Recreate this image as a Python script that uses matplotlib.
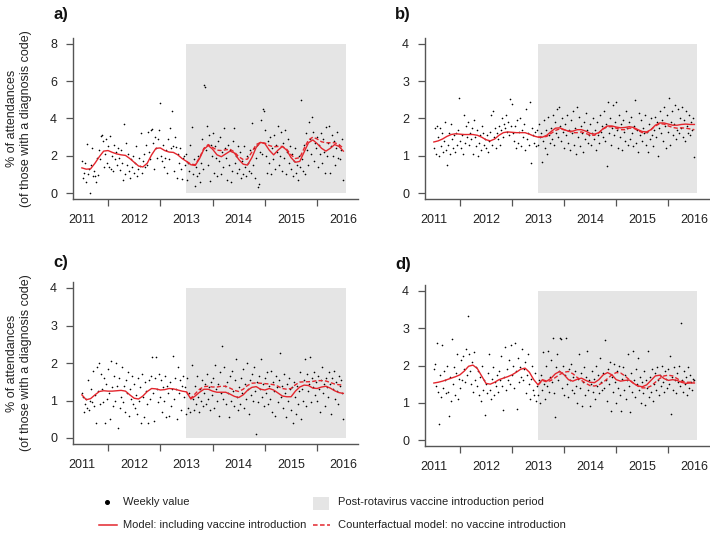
import numpy as np
import matplotlib
matplotlib.use("Agg")
import matplotlib.pyplot as plt
from matplotlib.patches import Rectangle

plt.rcParams["font.family"] = ["Liberation Sans", "DejaVu Sans"]

W, H = 710, 535
RED = "#e3262d"
SHADE = "#e5e5e5"
AXIS_GREY = "#555555"

START_YEAR = 2011          # first weekly value
VACCINE_YEAR = 2013        # start of post-vaccine period
SHADE_END = 2016.05

year_labels = ["2011", "2012", "2013", "2014", "2015", "2016"]
year_label_pos = [2011, 2012, 2013, 2014, 2015, 2016]
year_ticks = [2011.5, 2012.5, 2013.5, 2014.5, 2015.5]

# ---- weekly values (% of attendances) ----
weekly_a = [
    1.7, 0.8, 1.1, 1.6, 0.6, 2.65, 1.0, 1.3, 0.0, 1.5, 2.4, 0.9, 1.2,
    0.9, 0.6, 1.9, 0.95, 2.3, 1.8, 3.05, 3.1, 2.8, 1.4, 2.1, 2.9, 1.6,
    2.5, 1.4, 3.05, 1.3, 2.0, 1.2, 2.6, 1.8, 2.2, 1.5, 2.4, 1.9, 1.25,
    2.3, 1.6, 0.7, 3.68, 1.0, 2.7, 1.5, 2.1, 1.2, 0.8, 1.8, 1.4, 2.0,
    1.1, 1.6, 2.5, 0.9, 1.3, 1.9, 1.45, 3.2, 1.1, 1.7, 2.1, 1.4, 2.6,
    1.5, 3.3, 2.2, 1.8, 3.4, 3.45, 2.7, 1.3, 3.0, 2.4, 1.9, 2.9, 3.4,
    4.83, 2.0, 1.7, 2.6, 1.4, 1.9, 2.3, 1.1, 2.9, 1.8, 3.5, 2.4, 4.42,
    2.5, 1.2, 3.0, 2.45, 0.8, 2.1, 1.6, 2.4, 1.3, 0.75, 1.9, 2.0, 1.5,
    2.1, 0.7, 1.6, 1.2, 2.6, 3.57, 1.0, 1.8, 0.4, 1.4, 0.9, 2.0, 1.1,
    0.6, 1.6, 2.9, 1.3, 5.8, 5.7, 2.3, 3.6, 1.5, 3.1, 0.65, 2.6, 2.0,
    3.2, 1.1, 2.5, 1.9, 0.9, 2.8, 1.7, 3.0, 1.0, 2.2, 1.4, 3.5, 2.4,
    1.9, 0.7, 2.6, 1.5, 2.3, 0.6, 1.2, 2.8, 3.5, 1.6, 2.0, 1.1, 2.5,
    1.3, 2.2, 0.8, 1.7, 1.0, 2.5, 1.4, 0.9, 2.0, 1.6, 1.2, 2.3, 1.1,
    3.75, 1.5, 2.4, 0.8, 1.9, 2.6, 0.3, 0.5, 2.2, 3.9, 2.1, 4.5, 4.4,
    3.4, 2.0, 1.1, 2.8, 1.6, 3.0, 1.0, 2.4, 1.8, 3.1, 1.3, 2.6, 2.2,
    3.6, 1.5, 2.0, 3.3, 1.2, 2.7, 1.9, 3.4, 1.0, 2.2, 2.9, 1.6, 2.5,
    1.3, 2.1, 0.9, 1.7, 2.4, 1.1, 1.5, 0.7, 2.0, 1.4, 5.0, 1.8, 1.2,
    2.6, 1.0, 3.2, 2.3, 1.5, 3.8, 2.9, 2.1, 4.1, 3.3, 1.7, 2.7, 2.4,
    3.0, 1.4, 2.6, 2.1, 3.2, 1.6, 2.9, 2.2, 1.1, 3.55, 2.0, 2.7, 3.6,
    1.1, 2.5, 3.1, 2.0, 2.8, 1.5, 2.4, 3.3, 1.9, 2.6, 1.8, 2.3, 2.9,
    0.7,
]
weekly_b = [
    1.2, 1.75, 1.05, 1.8, 1.5, 1.0, 1.75, 1.25, 1.6, 1.1, 1.4, 1.9, 1.15,
    0.75, 1.3, 1.6, 1.05, 1.85, 1.45, 1.2, 1.55, 1.1, 1.6, 1.3, 1.7, 2.54,
    1.4, 1.2, 1.55, 1.05, 2.1, 1.35, 1.8, 1.5, 1.9, 1.3, 1.6, 1.45, 1.75,
    1.05, 1.95, 1.5, 1.25, 1.7, 1.0, 1.35, 1.55, 1.15, 1.8, 1.6, 1.3, 1.45,
    1.2, 1.55, 1.1, 1.4, 1.65, 2.1, 1.3, 2.2, 1.5, 1.75, 1.2, 1.6, 1.45,
    1.8, 1.3, 1.7, 2.0, 1.5, 1.85, 1.75, 2.1, 1.65, 1.9, 1.55, 2.52, 1.8,
    2.4, 1.6, 1.4, 1.8, 1.2, 1.95, 1.35, 1.65, 2.0, 1.25, 1.7, 1.5, 1.85,
    1.15, 2.25, 1.45, 1.6, 1.3, 2.45, 0.8, 1.75, 1.55, 1.35, 1.65, 1.25, 1.7,
    1.3, 1.85, 1.5, 1.6, 0.82, 1.4, 1.95, 1.2, 1.7, 1.05, 2.05, 1.55, 1.35,
    1.75, 1.45, 2.1, 1.3, 1.9, 1.6, 2.25, 1.5, 2.3, 1.8, 1.4, 2.0, 1.65,
    1.2, 1.85, 1.55, 2.1, 1.35, 1.7, 1.15, 1.95, 1.6, 2.2, 1.3, 1.75, 1.05,
    2.3, 1.5, 2.05, 1.25, 1.8, 1.6, 1.1, 1.9, 1.45, 2.15, 1.7, 1.35, 1.55,
    1.85, 1.3, 1.6, 2.0, 1.45, 1.7, 1.15, 1.9, 1.55, 1.35, 2.1, 1.65, 1.8,
    1.5, 2.2, 1.4, 1.85, 0.73, 2.45, 1.6, 2.0, 1.3, 1.75, 2.35, 1.55, 1.9,
    2.45, 1.7, 1.2, 2.1, 1.5, 1.85, 1.15, 1.95, 1.65, 1.4, 2.2, 1.75, 1.3,
    1.9, 1.45, 2.05, 1.6, 1.25, 1.8, 2.5, 1.35, 1.7, 1.1, 2.15, 1.55, 1.95,
    1.4, 1.75, 1.6, 2.1, 1.3, 1.65, 1.1, 1.85, 1.45, 2.0, 1.55, 1.25, 1.7,
    2.05, 1.5, 1.9, 1.0, 1.75, 2.2, 1.6, 1.95, 1.4, 2.3, 1.8, 1.2, 2.1,
    1.65, 2.55, 1.3, 1.9, 2.2, 1.55, 1.85, 2.35, 1.45, 1.7, 2.25, 1.6, 2.0,
    1.75, 2.3, 1.5, 1.95, 1.4, 2.2, 1.8, 1.6, 2.1, 1.55, 1.9, 1.7, 2.0,
    0.98,
]
weekly_c = [
    1.2, 1.1, 0.7, 0.9, 1.05, 0.8, 1.55, 0.75, 1.0, 1.3, 0.95, 1.8, 0.85,
    1.15, 0.4, 1.9, 1.25, 2.0, 0.9, 1.7, 1.3, 0.95, 1.6, 0.39, 1.45, 1.05,
    1.85, 1.2, 0.5, 2.05, 1.35, 0.85, 1.65, 1.0, 2.0, 1.4, 0.26, 1.6, 0.8,
    1.1, 1.9, 0.95, 1.4, 0.7, 1.55, 1.2, 1.75, 0.6, 1.3, 1.05, 1.65, 0.9,
    1.45, 0.8, 1.15, 0.65, 1.6, 1.0, 1.35, 0.4, 1.7, 1.1, 0.55, 1.5, 1.25,
    0.9, 0.39, 1.55, 1.05, 1.65, 2.15, 1.2, 0.45, 1.6, 2.17, 1.3, 0.95, 1.7,
    1.1, 1.55, 0.7, 1.35, 1.0, 1.65, 0.55, 1.4, 1.2, 0.6, 1.5, 0.85, 1.3,
    2.18, 1.05, 1.6, 1.3, 0.5, 1.9, 1.2, 1.55, 0.75, 1.4, 1.65, 1.1, 1.35,
    0.65, 1.6, 0.8, 1.2, 0.7, 1.95, 1.05, 0.75, 1.4, 0.9, 1.65, 1.1, 0.7,
    1.3, 1.0, 1.55, 0.85, 1.2, 1.45, 0.9, 1.7, 1.05, 1.35, 0.75, 1.5, 1.15,
    1.6, 0.8, 1.95, 1.3, 1.0, 1.45, 0.6, 1.75, 1.2, 2.45, 1.05, 1.9, 1.4,
    0.9, 1.5, 1.2, 0.55, 1.65, 1.0, 1.8, 1.25, 0.85, 1.55, 2.1, 1.1, 0.75,
    1.35, 0.9, 1.6, 1.2, 1.85, 0.8, 1.45, 1.05, 1.99, 1.3, 0.65, 1.55, 1.15,
    1.7, 1.0, 1.9, 1.25, 0.12, 1.5, 0.95, 1.65, 1.3, 2.1, 1.1, 1.45, 0.85,
    1.6, 1.2, 1.75, 0.9, 1.4, 1.05, 1.8, 0.7, 1.5, 1.25, 0.6, 1.65, 1.35,
    0.95, 1.55, 2.26, 1.1, 1.4, 0.8, 1.7, 1.2, 0.55, 1.45, 1.0, 1.6, 1.3,
    0.75, 1.35, 0.4, 1.5, 1.1, 0.65, 1.4, 0.9, 1.25, 1.75, 0.5, 1.3, 1.0,
    1.55, 2.1, 0.85, 1.7, 1.25, 1.45, 2.15, 0.95, 1.6, 1.35, 1.75, 1.15, 1.5,
    1.0, 1.65, 1.3, 0.7, 1.55, 1.9, 1.2, 1.45, 0.85, 1.6, 1.35, 1.1, 1.75,
    1.45, 0.65, 1.6, 1.3, 1.8, 1.05, 1.5, 1.25, 0.9, 1.65, 1.4, 1.55, 1.2,
    0.52,
]
weekly_d = [
    1.9, 2.05, 1.45, 2.6, 1.3, 0.42, 1.75, 1.15, 2.55, 1.4, 1.85, 1.6, 1.25,
    2.0, 1.3, 0.64, 1.7, 1.05, 2.7, 1.5, 1.95, 1.2, 1.8, 2.3, 1.1, 1.65,
    1.4, 2.15, 1.6, 2.25, 1.9, 1.55, 2.45, 1.75, 3.33, 2.3, 1.85, 1.5, 2.1,
    1.3, 2.35, 1.6, 1.95, 1.45, 1.85, 1.2, 1.7, 1.05, 2.0, 1.35, 1.6, 0.67,
    1.5, 1.25, 1.8, 2.3, 1.35, 1.1, 1.65, 1.95, 1.2, 1.55, 1.45, 1.75, 1.3,
    1.85, 1.6, 2.25, 1.45, 0.8, 1.7, 2.5, 1.35, 1.9, 1.6, 2.15, 1.5, 2.55,
    1.75, 2.0, 1.4, 2.6, 1.85, 0.82, 2.2, 1.55, 1.95, 1.7, 2.45, 1.6, 1.9,
    2.1, 1.25, 1.75, 2.3, 1.5, 1.1, 1.65, 2.0, 1.35, 1.2, 1.8, 1.05, 1.45,
    1.2, 1.6, 1.0, 1.75, 1.35, 2.35, 1.5, 1.1, 2.0, 1.45, 2.4, 1.3, 1.7,
    2.15, 1.55, 2.73, 1.25, 0.61, 1.95, 2.3, 1.6, 1.85, 2.73, 2.7, 1.4, 2.0,
    1.2, 1.75, 2.73, 1.5, 1.15, 1.9, 1.6, 2.05, 1.35, 1.7, 1.25, 1.85, 1.45,
    1.0, 1.65, 2.3, 1.4, 1.8, 0.9, 1.55, 1.95, 1.2, 1.7, 2.4, 1.35, 1.6,
    0.9, 1.5, 1.85, 1.3, 1.65, 1.1, 2.0, 1.45, 1.75, 1.25, 2.2, 1.55, 1.35,
    1.8, 1.4, 2.68, 1.6, 1.05, 1.9, 1.5, 2.1, 0.78, 1.7, 1.3, 2.05, 1.55,
    1.0, 1.85, 1.4, 2.0, 1.2, 0.78, 1.65, 1.95, 1.35, 1.75, 1.1, 1.6, 2.3,
    1.45, 0.75, 1.8, 1.3, 2.4, 1.6, 1.15, 1.9, 1.5, 2.2, 1.35, 1.7, 1.0,
    1.55, 1.25, 1.85, 0.95, 1.6, 1.4, 2.4, 1.15, 1.7, 1.3, 1.9, 1.05, 1.5,
    1.8, 1.35, 1.95, 1.6, 1.2, 1.75, 1.45, 2.0, 1.55, 1.3, 1.85, 1.65, 1.4,
    1.9, 1.5, 2.25, 0.71, 1.7, 1.35, 1.95, 1.6, 1.25, 1.8, 1.55, 2.0, 1.45,
    3.13, 1.6, 1.3, 1.85, 1.5, 1.7, 1.2, 1.95, 1.4, 1.75, 1.55, 1.35, 1.65,
    1.6,
]

# ---- fitted model, monthly from Jan 2011 to Jan 2016 ----
model_a = [
    1.35, 1.28, 1.30, 1.60, 1.95, 2.25, 2.28, 2.18, 2.10, 2.05, 2.02, 1.85,
    1.65, 1.45, 1.40, 1.60, 2.05, 2.40, 2.42, 2.28, 2.20, 2.18, 2.05, 1.85,
    1.70, 1.52, 1.48, 1.85, 2.35, 2.55, 2.35, 2.05, 1.95, 2.10, 2.25, 2.15,
    1.80, 1.55, 1.50, 1.90, 2.45, 2.72, 2.65, 2.30, 2.05, 2.30, 2.50, 2.30,
    1.90, 1.65, 1.70, 2.20, 2.70, 2.85, 2.65, 2.40, 2.25, 2.40, 2.60, 2.50,
    2.25,
]
model_b = [
    1.37, 1.40, 1.45, 1.52, 1.57, 1.59, 1.58, 1.57, 1.57, 1.57, 1.55, 1.50,
    1.43, 1.40, 1.45, 1.55, 1.62, 1.64, 1.63, 1.62, 1.62, 1.62, 1.58, 1.53,
    1.50, 1.50, 1.55, 1.65, 1.74, 1.75, 1.70, 1.66, 1.66, 1.70, 1.70, 1.66,
    1.60, 1.58, 1.62, 1.73, 1.80, 1.80, 1.77, 1.75, 1.76, 1.78, 1.76, 1.70,
    1.65, 1.64, 1.70, 1.82, 1.88, 1.88, 1.85, 1.82, 1.82, 1.84, 1.85, 1.84,
    1.84,
]
model_c = [
    1.15, 1.02, 1.05, 1.15, 1.24, 1.26, 1.25, 1.25, 1.26, 1.27, 1.25, 1.15,
    1.06, 1.04, 1.12, 1.24, 1.32, 1.31, 1.28, 1.29, 1.32, 1.31, 1.28, 1.25,
    1.23, 1.04, 1.12, 1.22, 1.30, 1.30, 1.25, 1.22, 1.22, 1.22, 1.17, 1.11,
    1.08, 1.15, 1.27, 1.35, 1.37, 1.30, 1.28, 1.32, 1.28, 1.20, 1.12, 1.10,
    1.10, 1.25, 1.36, 1.41, 1.40, 1.33, 1.32, 1.36, 1.38, 1.33, 1.26, 1.21,
    1.19,
]
model_d = [
    1.53, 1.55, 1.58, 1.62, 1.66, 1.70, 1.75, 1.85, 1.98, 2.01, 1.92, 1.72,
    1.52, 1.50, 1.55, 1.62, 1.66, 1.70, 1.75, 1.82, 1.90, 1.93, 1.82, 1.62,
    1.48, 1.62, 1.58, 1.66, 1.78, 1.84, 1.75, 1.62, 1.58, 1.63, 1.66, 1.60,
    1.55, 1.54, 1.62, 1.75, 1.81, 1.75, 1.62, 1.58, 1.60, 1.61, 1.52, 1.45,
    1.43, 1.48, 1.60, 1.72, 1.74, 1.65, 1.60, 1.62, 1.60, 1.55, 1.52, 1.53,
    1.53,
]

# ---- counterfactual model, monthly from Jan 2013 to Jan 2016 ----
counter_a = [
    1.70, 1.55, 1.52, 1.90, 2.40, 2.60, 2.45, 2.30, 2.28, 2.32, 2.35, 2.20,
    1.95, 1.80, 1.82, 2.20, 2.60, 2.72, 2.68, 2.55, 2.48, 2.50, 2.50, 2.35,
    2.05, 1.85, 1.90, 2.40, 2.85, 3.00, 2.90, 2.75, 2.70, 2.70, 2.70, 2.60,
    2.40,
]
counter_b = [
    1.50, 1.50, 1.52, 1.60, 1.68, 1.72, 1.70, 1.66, 1.62, 1.62, 1.64, 1.60,
    1.55, 1.55, 1.62, 1.72, 1.78, 1.78, 1.74, 1.70, 1.70, 1.74, 1.74, 1.68,
    1.62, 1.62, 1.70, 1.80, 1.86, 1.85, 1.80, 1.76, 1.74, 1.75, 1.74, 1.72,
    1.70,
]
counter_c = [
    1.23, 1.06, 1.18, 1.30, 1.37, 1.38, 1.36, 1.36, 1.38, 1.38, 1.33, 1.27,
    1.24, 1.30, 1.40, 1.46, 1.47, 1.46, 1.45, 1.44, 1.42, 1.38, 1.32, 1.30,
    1.32, 1.42, 1.49, 1.50, 1.50, 1.51, 1.53, 1.53, 1.52, 1.48, 1.44, 1.42,
    1.41,
]
counter_d = [
    1.48, 1.60, 1.56, 1.60, 1.68, 1.76, 1.82, 1.84, 1.78, 1.68, 1.60, 1.52,
    1.46, 1.45, 1.48, 1.55, 1.65, 1.75, 1.81, 1.80, 1.72, 1.62, 1.52, 1.45,
    1.40, 1.40, 1.45, 1.55, 1.65, 1.72, 1.74, 1.72, 1.65, 1.58, 1.55, 1.55,
    1.56,
]

# panel layout in pixels: left, top, right, bottom
panels = [
    ("a)", weekly_a, model_a, counter_a, 8, [0, 2, 4, 6, 8], (73, 38, 358, 199), (53, 15)),
    ("b)", weekly_b, model_b, counter_b, 4, [0, 1, 2, 3, 4], (425, 38, 709, 199), (395, 15)),
    ("c)", weekly_c, model_c, counter_c, 4, [0, 1, 2, 3, 4], (73, 282, 358, 444), (53, 262)),
    ("d)", weekly_d, model_d, counter_d, 4, [0, 1, 2, 3, 4], (425, 285, 709, 446), (395, 265)),
]

YLABEL = "% of attendances\n(of those with a diagnosis code)"


def draw_panel(fig, weekly, model, counter, ymax, yticks, rect):
    l, t, r, b = rect
    ax = fig.add_axes([l / W, 1 - b / H, (r - l) / W, (b - t) / H])
    ax.set_xlim(2010.83, 2016.28)
    ax.set_ylim(-0.04 * ymax, 1.04 * ymax)
    ax.fill_between([VACCINE_YEAR, SHADE_END], 0, ymax, color=SHADE, lw=0, zorder=0)

    wx = START_YEAR + np.arange(len(weekly)) / 52.0
    ax.scatter(wx, weekly, s=1.4, c="black", linewidths=0, zorder=2)

    mx = START_YEAR + np.arange(len(model)) / 12.0
    cx = VACCINE_YEAR + np.arange(len(counter)) / 12.0
    ax.plot(cx, counter, color=RED, lw=1.0, ls=(0, (3, 1.6)), zorder=3)
    ax.plot(mx, model, color=RED, lw=1.0, zorder=4)

    for s in ("top", "right"):
        ax.spines[s].set_visible(False)
    for s in ("left", "bottom"):
        ax.spines[s].set_color(AXIS_GREY)
        ax.spines[s].set_linewidth(1.0)

    ax.set_yticks(yticks)
    ax.set_yticklabels([str(v) for v in yticks])
    ax.set_xticks(year_ticks)
    ax.set_xticklabels([])
    ax.set_xticks(year_label_pos, minor=True)
    ax.set_xticklabels(year_labels, minor=True)
    ax.tick_params(axis="y", length=5, width=0.9, color=AXIS_GREY, pad=6.5,
                   labelsize=9, labelcolor="#222222")
    ax.tick_params(axis="x", which="major", length=5, width=0.9, color=AXIS_GREY)
    ax.tick_params(axis="x", which="minor", length=0, pad=10.5,
                   labelsize=9, labelcolor="#222222")
    return ax


fig = plt.figure(figsize=(W / 100, H / 100), dpi=100)

for title, weekly, model, counter, ymax, yticks, rect, tpos in panels:
    draw_panel(fig, weekly, model, counter, ymax, yticks, rect)
    fig.text(tpos[0] / W, 1 - tpos[1] / H, title, fontsize=12, fontweight="bold",
             ha="left", va="center", color="#111111")

for rect in (panels[0][6], panels[2][6]):
    yc = (rect[1] + rect[3]) / 2
    fig.text(19 / W, 1 - yc / H, YLABEL, rotation=90, ha="center", va="center",
             fontsize=9, color="#222222", multialignment="center", linespacing=1.25)

# legend drawn in pixel coordinates
leg = fig.add_axes([0, 0, 1, 1], zorder=-1)
leg.set_xlim(0, W)
leg.set_ylim(H, 0)
leg.axis("off")
leg.plot([107], [502], "o", color="black", ms=2.6)
leg.text(123, 502, "Weekly value", fontsize=8, va="center", color="#222222")
leg.add_patch(Rectangle((313, 496.5), 16, 13, color=SHADE, lw=0))
leg.text(338, 502, "Post-rotavirus vaccine introduction period", fontsize=8,
         va="center", color="#222222")
leg.plot([99, 117], [525, 525], color=RED, lw=1.1)
leg.text(123, 525, "Model: including vaccine introduction", fontsize=8,
         va="center", color="#222222")
leg.plot([313, 330], [525, 525], color=RED, lw=1.1, ls=(0, (3, 1.6)))
leg.text(338, 525, "Counterfactual model: no vaccine introduction", fontsize=8,
         va="center", color="#222222")

fig.savefig("out.png", dpi=100)
